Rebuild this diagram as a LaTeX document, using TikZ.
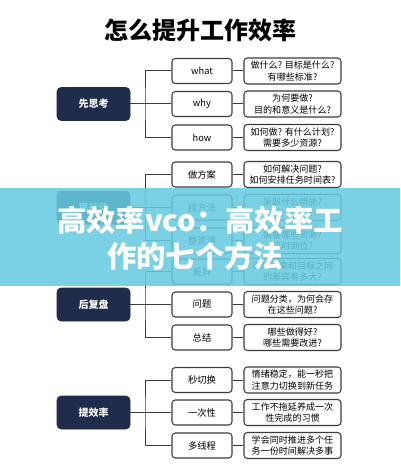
\documentclass[tikz,border=0pt]{standalone}
\usepackage{fontspec}
\setmainfont{Noto Sans CJK SC}
\usepackage{tikz}
\usetikzlibrary{shapes}

\definecolor{navy}{RGB}{31,44,76}
\definecolor{edgegray}{RGB}{60,60,60}
\definecolor{banner}{RGB}{104,203,224}

\begin{document}
\begin{tikzpicture}[x=0.75pt,y=0.75pt,yscale=-1,xscale=1,
  groupbox/.style={fill=navy,draw=navy,rounded corners=3pt,minimum width=54.75pt,minimum height=24.75pt,inner sep=0pt,text=white,font=\fontsize{7.5}{9}\selectfont\bfseries},
  itembox/.style={fill=white,draw=edgegray,line width=0.8pt,rounded corners=2.5pt,minimum width=45pt,minimum height=18.75pt,inner sep=0pt,font=\fontsize{7}{8}\selectfont},
  notebox/.style={fill=white,draw=edgegray,line width=0.8pt,rounded corners=2.5pt,minimum width=72.75pt,minimum height=19.5pt,inner sep=0pt,align=center,font=\fontsize{6.8}{8.6}\selectfont},
  link/.style={draw=edgegray,line width=0.75pt}]
\useasboundingbox (0,0) rectangle (400,474);
\fill[white] (0,0) rectangle (400,474);

% Title
\node (title) at (200,30) {\fontsize{18}{20}\selectfont\bfseries 怎么提升工作效率};

%Group 1
\node[groupbox] (g1) at (93.5,104) {先思考};
\node[itembox] (what) at (202,71) {what};
\node[itembox] (why) at (202,104) {why};
\node[itembox] (how) at (202,137.5) {how};
\node[notebox] (nwhat) at (292.5,71) {做什么? 目标是什么?\\有哪些标准?};
\node[notebox] (nwhy) at (292.5,104) {为何要做?\\目的和意义是什么?};
\node[notebox] (nhow) at (292.5,137.5) {如何做? 有什么计划?\\需要多少资源?};
\coordinate (b1) at (145,104);
\draw[link] (g1.east) -- (b1);
\draw[link] (what.west) -| (b1) |- (how.west);
\draw[link] (b1) -- (why.west);
\draw[link] (what) -- (nwhat);
\draw[link] (why) -- (nwhy);
\draw[link] (how) -- (nhow);

%Group 2
\node[groupbox] (g2) at (93.5,207.5) {再行动};
\node[itembox] (plan) at (202,174.5) {做方案};
\node[itembox] (method) at (202,207.5) {找方法};
\node[itembox] (res) at (202,240.5) {整资源};
\node[notebox] (nplan) at (292.5,174.5) {如何解决问题?\\如何安排任务时间表?};
\node[notebox] (nmethod) at (292.5,207.5) {采取什么措施?\\有什么方法?};
\node[notebox] (nres) at (292.5,240.5) {需要哪些资源?\\何时到位?};
\coordinate (b2) at (145,207.5);
\draw[link] (g2.east) -- (b2);
\draw[link] (plan.west) -| (b2) |- (res.west);
\draw[link] (b2) -- (method.west);
\draw[link] (plan) -- (nplan);
\draw[link] (method) -- (nmethod);
\draw[link] (res) -- (nres);

%Group 3
\node[groupbox] (g3) at (93.5,304.5) {后复盘};
\node[itembox] (gap) at (202,271.5) {差异};
\node[itembox] (issue) at (202,304.5) {问题};
\node[itembox] (sum) at (202,337.5) {总结};
\node[notebox] (ngap) at (292.5,271.5) {实际结果和目标之间\\的差异有多大?};
\node[notebox] (nissue) at (292.5,304.5) {问题分类，为何会存\\在这些问题?};
\node[notebox] (nsum) at (292.5,337.5) {哪些做得好?\\哪些需要改进?};
\coordinate (b3) at (145,304.5);
\draw[link] (g3.east) -- (b3);
\draw[link] (gap.west) -| (b3) |- (sum.west);
\draw[link] (b3) -- (issue.west);
\draw[link] (gap) -- (ngap);
\draw[link] (issue) -- (nissue);
\draw[link] (sum) -- (nsum);

%Group 4
\node[groupbox] (g4) at (93.5,412.5) {提效率};
\node[itembox] (switch) at (202,380) {秒切换};
\node[itembox] (once) at (202,412.5) {一次性};
\node[itembox] (multi) at (202,445.5) {多线程};
\node[notebox] (nswitch) at (292.5,380) {情绪稳定，能一秒把\\注意力切换到新任务};
\node[notebox] (nonce) at (292.5,412.5) {工作不拖延养成一次\\性完成的习惯};
\node[notebox] (nmulti) at (292.5,445.5) {学会同时推进多个任\\务一份时间解决多事};
\coordinate (b4) at (145,412.5);
\draw[link] (g4.east) -- (b4);
\draw[link] (switch.west) -| (b4) |- (multi.west);
\draw[link] (b4) -- (once.west);
\draw[link] (switch) -- (nswitch);
\draw[link] (once) -- (nonce);
\draw[link] (multi) -- (nmulti);

% Banner
\fill[banner,opacity=0.87] (0,188) rectangle (400,286);
\node[text=white] (head1) at (200,220) {\fontsize{22}{24}\selectfont\bfseries 高效率vco：高效率工};
\node[text=white] (head2) at (195,256) {\fontsize{22}{24}\selectfont\bfseries 作的七个方法};

\end{tikzpicture}
\end{document}
